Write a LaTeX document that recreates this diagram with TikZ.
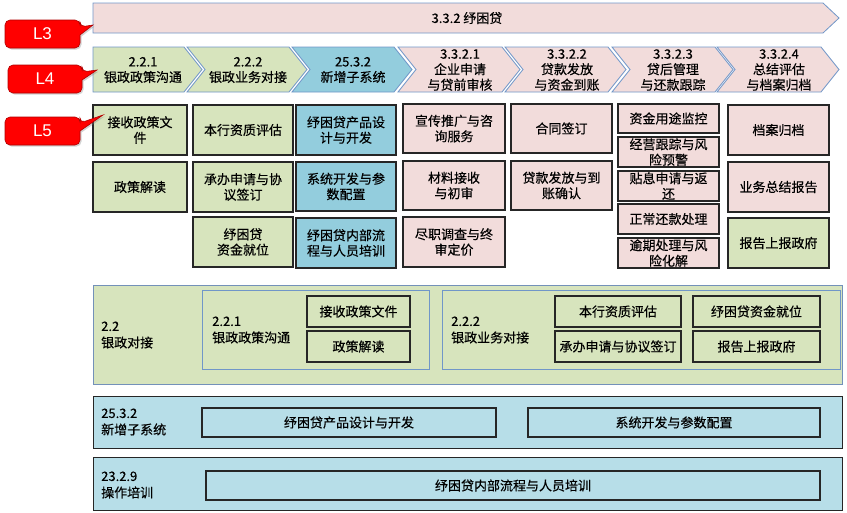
\documentclass[tikz,border=0pt]{standalone}
\usepackage{fontspec}
\setmainfont{Noto Sans CJK SC}[FakeBold=0.35]
\newfontfamily\lfont{Liberation Sans}
\usetikzlibrary{shadows}
\definecolor{grn}{HTML}{D7E4BD}
\definecolor{blu}{HTML}{93CDDD}
\definecolor{pnk}{HTML}{F2DCDB}
\definecolor{lblu}{HTML}{B7DEE8}
\definecolor{chb}{HTML}{7096C8}
\definecolor{bdr}{HTML}{262626}
\definecolor{rdb}{HTML}{B00000}
\tikzset{
  txt/.style={font=\fontsize{13}{15.5}\selectfont, align=center, inner sep=0pt},
  ltxt/.style={font=\fontsize{13}{16.5}\selectfont, align=left, inner sep=0pt, anchor=west},
  bxs/.style={draw=bdr, line width=1.2pt, drop shadow={shadow xshift=1pt,shadow yshift=-1pt,opacity=0.25}},
  chevs/.style={draw=chb, line width=0.8pt},
  callout/.style={fill=red, draw=rdb, line width=0.6pt, drop shadow={shadow xshift=1.5pt,shadow yshift=-1.5pt,opacity=0.35}},
  calltxt/.style={font=\lfont\fontsize{17}{17}\selectfont, text=white, inner sep=0pt},
  sect/.style={line width=1pt, drop shadow={shadow xshift=1pt,shadow yshift=-1pt,opacity=0.3}},
}
\newcommand{\chev}[3]{\path[chevs, fill=#3] (#1,47) -- ({#2-18},47) -- (#2,69.5) -- ({#2-18},92) -- (#1,92) -- ({#1+18},69.5) -- cycle;}
\newcommand{\bx}[7]{\path[bxs, fill=#5] (#1,#2) rectangle (#3,#4);
  \node[txt] (#6) at ({(#1+#3)/2},{(#2+#4)/2}) {#7};}
\begin{document}
\begin{tikzpicture}[x=1pt,y=-1pt]
\useasboundingbox (0,0) rectangle (847,512);
% L3 banner
\path[chevs, fill=pnk] (93,3) -- (823,3) -- (839,18) -- (823,33) -- (93,33) -- cycle;
\node[txt] (l3title) at (467,18) {3.3.2 纾困贷};
% L4 chevrons
\path[chevs, fill=grn] (93,47) -- (184,47) -- (202,69.5) -- (184,92) -- (93,92) -- cycle;
\chev{187}{307}{grn}
\chev{292}{412}{blu}
\chev{398}{520}{pnk}
\chev{505}{626}{pnk}
\chev{612}{733}{pnk}
\chev{717}{839}{pnk}
\node[txt] (c1) at (143,70) {2.2.1\\银政政策沟通};
\node[txt] (c2) at (248,70) {2.2.2\\银政业务对接};
\node[txt] (c3) at (353,70) {25.3.2\\新增子系统};
\node[txt] (c4) at (460,70) {3.3.2.1\\企业申请\\与贷前审核};
\node[txt] (c5) at (567,70) {3.3.2.2\\贷款发放\\与资金到账};
\node[txt] (c6) at (673,70) {3.3.2.3\\贷后管理\\与还款跟踪};
\node[txt] (c7) at (779,70) {3.3.2.4\\总结评估\\与档案归档};
% L5 boxes
\bx{93}{105}{187}{155}{grn}{a1}{接收政策文\\件}
\bx{93}{162}{187}{212}{grn}{a2}{政策解读}
\bx{193}{105}{293}{155}{grn}{b1}{本行资质评估}
\bx{193}{162}{293}{212}{grn}{b2}{承办申请与协\\议签订}
\bx{193}{217}{293}{267}{grn}{b3}{纾困贷\\资金就位}
\bx{296}{105}{396}{155}{blu}{d1}{纾困贷产品设\\计与开发}
\bx{296}{162}{396}{211}{blu}{d2}{系统开发与参\\数配置}
\bx{296}{218}{396}{268}{blu}{d3}{纾困贷内部流\\程与人员培训}
\bx{403}{104}{505}{153}{pnk}{e1}{宣传推广与咨\\询服务}
\bx{403}{161}{505}{210}{pnk}{e2}{材料接收\\与初审}
\bx{403}{217}{505}{267}{pnk}{e3}{尽职调查与终\\审定价}
\bx{511}{104}{612}{153}{pnk}{f1}{合同签订}
\bx{511}{161}{612}{210}{pnk}{f2}{贷款发放与到\\账确认}
\bx{618}{104}{719}{133}{pnk}{g1}{资金用途监控}
\bx{618}{137}{719}{167}{pnk}{g2}{经营跟踪与风\\险预警}
\bx{618}{171}{719}{201}{pnk}{g3}{贴息申请与返\\还}
\bx{618}{204}{719}{234}{pnk}{g4}{正常还款处理}
\bx{618}{238}{719}{268}{pnk}{g5}{逾期处理与风\\险化解}
\bx{728}{105}{829}{155}{pnk}{h1}{档案归档}
\bx{728}{162}{829}{212}{pnk}{h2}{业务总结报告}
\bx{728}{218}{829}{268}{grn}{h3}{报告上报政府}
% Section 2.2
\path[sect, draw=chb!80!gray, fill=grn] (93,285) rectangle (842,384);
\node[ltxt] (s1) at (101,335) {2.2\\银政对接};
\path[sect, draw=chb, fill=grn] (202,290) rectangle (429,369);
\node[ltxt] (s11) at (212,330) {2.2.1\\银政政策沟通};
\bx{307}{296}{410}{327}{grn}{s11a}{接收政策文件}
\bx{307}{331}{410}{362}{grn}{s11b}{政策解读}
\path[sect, draw=chb, fill=grn] (442,290) rectangle (840,369);
\node[ltxt] (s12) at (451,330) {2.2.2\\银政业务对接};
\bx{555}{296}{681}{327}{grn}{s12a}{本行资质评估}
\bx{555}{331}{681}{362}{grn}{s12b}{承办申请与协议签订}
\bx{693}{296}{820}{327}{grn}{s12c}{纾困贷资金就位}
\bx{693}{331}{820}{362}{grn}{s12d}{报告上报政府}
% Section 25.3.2
\path[sect, draw=bdr, fill=lblu] (93,396) rectangle (842,448);
\node[ltxt] (s2) at (101,422) {25.3.2\\新增子系统};
\bx{202}{408}{496}{437}{lblu}{s2a}{纾困贷产品设计与开发}
\bx{528}{408}{820}{437}{lblu}{s2b}{系统开发与参数配置}
% Section 23.2.9
\path[sect, draw=bdr, fill=lblu] (93,457) rectangle (842,510);
\node[ltxt] (s3) at (101,485) {23.2.9\\操作培训};
\bx{206}{471}{820}{500}{lblu}{s3a}{纾困贷内部流程与人员培训}
% callouts
\path[callout] (42,20) [rounded corners=5pt] -- (80,20) -- (80,27) [sharp corners] -- (93,25) -- (80,35) [rounded corners=5pt] -- (80,48) -- (5,48) -- (5,20) [sharp corners] -- cycle;
\node[calltxt] (cl3) at (42.5,34) {L3};
\path[callout] (45,65) [rounded corners=5pt] -- (82,65) -- (82,72) [sharp corners] -- (97,70) -- (82,80) [rounded corners=5pt] -- (82,93) -- (8,93) -- (8,65) [sharp corners] -- cycle;
\node[calltxt] (cl4) at (45,79) {L4};
\path[callout] (42,117) [rounded corners=5pt] -- (80,117) -- (80,123) [sharp corners] -- (103,115) -- (80,131) [rounded corners=5pt] -- (80,145) -- (5,145) -- (5,117) [sharp corners] -- cycle;
\node[calltxt] (cl5) at (42.5,131) {L5};
\end{tikzpicture}
\end{document}
